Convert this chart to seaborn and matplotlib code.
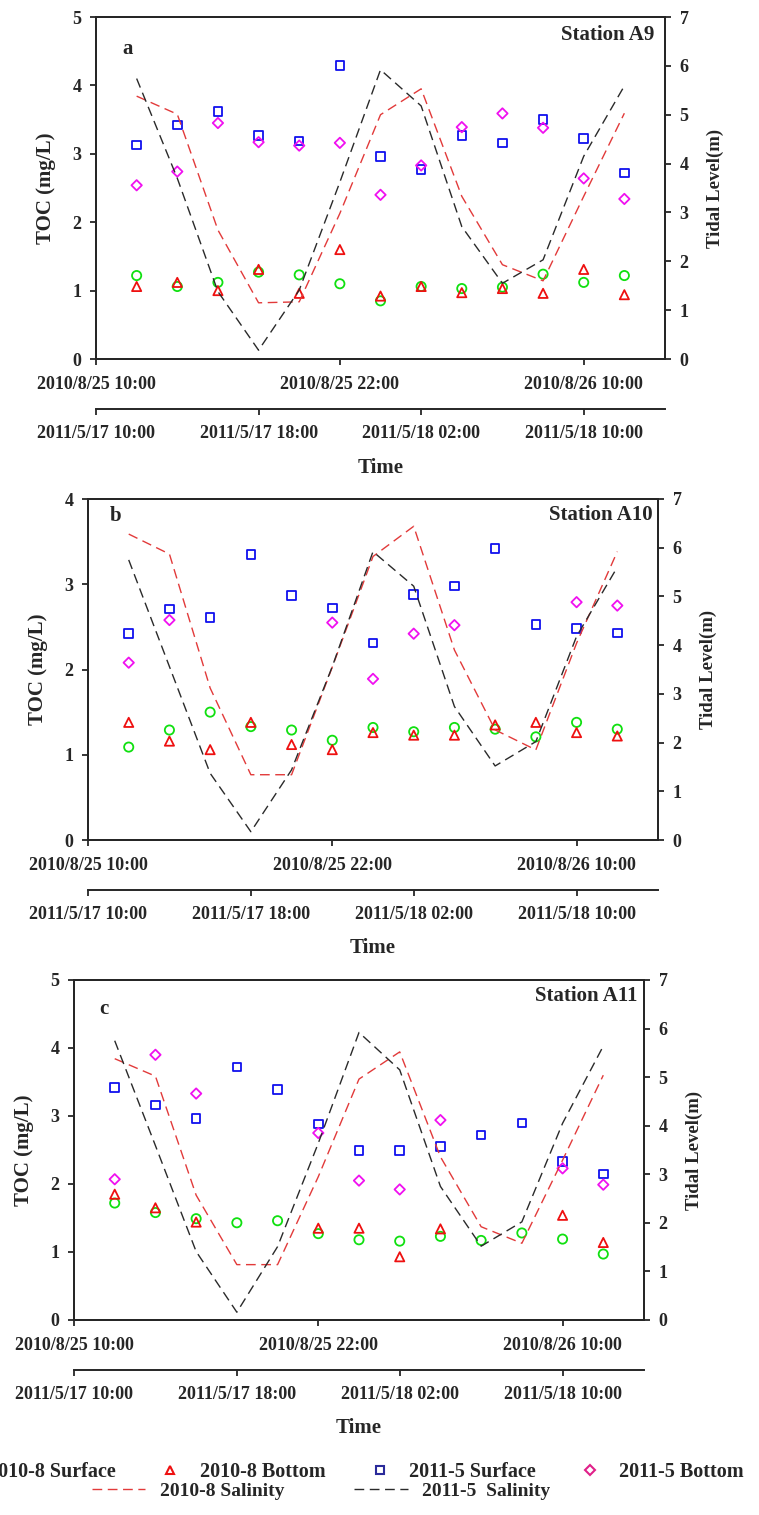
import numpy as np
import matplotlib
matplotlib.use("Agg")
import matplotlib.pyplot as plt
import seaborn as sns
from matplotlib.lines import Line2D

# ---------------- data ----------------
# sampling times: hours after 2010/8/25 10:00 (and 2011/5/17 10:00)
hours = [2, 4, 6, 8, 10, 12, 14, 16, 18, 20, 22, 24, 26]
ticks_2010 = [0, 12, 24]
labels_2010 = ["2010/8/25 10:00", "2010/8/25 22:00", "2010/8/26 10:00"]
ticks_2011 = [0, 8, 16, 24]
labels_2011 = ["2011/5/17 10:00", "2011/5/17 18:00", "2011/5/18 02:00", "2011/5/18 10:00"]

nan = np.nan

# Station A9
a9_surf2010 = [1.22, 1.06, 1.12, 1.27, 1.23, 1.10, 0.85, 1.06, 1.03, 1.05, 1.24, 1.12, 1.22]
a9_bot2010 = [1.06, 1.12, 1.00, 1.31, 0.96, 1.60, 0.92, 1.06, 0.97, 1.03, 0.96, 1.31, 0.94]
a9_surf2011 = [3.13, 3.42, 3.62, 3.27, 3.19, 4.29, 2.96, 2.77, 3.27, 3.16, 3.50, 3.22, 2.72]
a9_bot2011 = [2.54, 2.74, 3.45, 3.17, 3.12, 3.16, 2.40, 2.83, 3.39, 3.59, 3.38, 2.64, 2.34]
a9_sal2010 = [5.38, 5.01, 2.64, 1.15, 1.17, 2.98, 5.00, 5.53, 3.33, 1.93, 1.60, 3.33, 5.03]
a9_sal2011 = [5.74, 3.70, 1.38, 0.18, 1.41, 3.62, 5.92, 5.18, 2.71, 1.55, 2.03, 4.15, 5.59]

# Station A10
a10_surf2010 = [1.09, 1.29, 1.50, 1.33, 1.29, 1.17, 1.32, 1.27, 1.32, 1.30, 1.21, 1.38, 1.30]
a10_bot2010 = [1.38, 1.16, 1.06, 1.38, 1.12, 1.06, 1.26, 1.23, 1.23, 1.35, 1.38, 1.26, 1.22]
a10_surf2011 = [2.42, 2.71, 2.61, 3.35, 2.87, 2.72, 2.31, 2.88, 2.98, 3.42, 2.53, 2.48, 2.43]
a10_bot2011 = [2.08, 2.58, nan, nan, nan, 2.55, 1.89, 2.42, 2.52, nan, nan, 2.79, 2.75]
a10_sal2010 = [6.28, 5.87, 3.12, 1.34, 1.34, 3.55, 5.82, 6.44, 3.90, 2.26, 1.85, 4.04, 5.92]
a10_sal2011 = [5.75, 3.56, 1.37, 0.17, 1.44, 3.56, 5.92, 5.21, 2.74, 1.52, 2.02, 4.18, 5.60]

# Station A11
a11_surf2010 = [1.72, 1.58, 1.49, 1.43, 1.46, 1.27, 1.18, 1.16, 1.23, 1.17, 1.28, 1.19, 0.97]
a11_bot2010 = [1.85, 1.65, 1.44, nan, nan, 1.35, 1.35, 0.93, 1.34, nan, nan, 1.54, 1.14]
a11_surf2011 = [3.42, 3.16, 2.96, 3.72, 3.39, 2.88, 2.49, 2.49, 2.55, 2.72, 2.90, 2.33, 2.15]
a11_bot2011 = [2.07, 3.90, 3.33, nan, nan, 2.75, 2.05, 1.92, 2.94, nan, nan, 2.23, 1.99]
a11_sal2010 = [5.38, 5.02, 2.57, 1.14, 1.14, 2.95, 4.96, 5.52, 3.36, 1.92, 1.58, 3.29, 5.04]
a11_sal2011 = [5.75, 3.59, 1.41, 0.16, 1.51, 3.64, 5.92, 5.15, 2.75, 1.52, 2.02, 4.05, 5.64]

series_labels = ["2010-8 Surface", "2010-8 Bottom", "2011-5 Surface", "2011-5 Bottom"]
line_labels = ["2010-8 Salinity", "2011-5  Salinity"]

# ---------------- style ----------------
sns.set_theme(style="ticks")
plt.rcParams["font.family"] = ["Liberation Serif", "DejaVu Serif"]
plt.rcParams["font.weight"] = "bold"
plt.rcParams["axes.labelweight"] = "bold"
plt.rcParams["axes.linewidth"] = 1.4

C_GREEN = "#10e010"
C_RED = "#ee1010"
C_BLUE = "#1010ee"
C_MAG = "#f010f0"
C_SAL10 = "#e23a3a"
C_SAL11 = "#2a2a2a"
DASH = (0, (7, 4))

fig = plt.figure(figsize=(7.59, 15.15), dpi=100)
W, H = 759.0, 1515.0

panels = [
    dict(rect=(96, 17, 665, 359), ymax=5, letter="a", station="Station A9",
         letter_xy=(0.047, 0.905), st_xy=(0.982, 0.947),
         data=(a9_surf2010, a9_bot2010, a9_surf2011, a9_bot2011, a9_sal2010, a9_sal2011)),
    dict(rect=(88, 499, 658, 840), ymax=4, letter="b", station="Station A10",
         letter_xy=(0.039, 0.95), st_xy=(0.991, 0.953),
         data=(a10_surf2010, a10_bot2010, a10_surf2011, a10_bot2011, a10_sal2010, a10_sal2011)),
    dict(rect=(74, 980, 644, 1320), ymax=5, letter="c", station="Station A11",
         letter_xy=(0.045, 0.915), st_xy=(0.988, 0.953),
         data=(a11_surf2010, a11_bot2010, a11_surf2011, a11_bot2011, a11_sal2010, a11_sal2011)),
]

TICK_FS = 13
for p in panels:
    x0, y0, x1, y1 = p["rect"]
    ax = fig.add_axes([x0 / W, 1 - y1 / H, (x1 - x0) / W, (y1 - y0) / H])
    ax.set_facecolor("white")
    surf10, bot10, surf11, bot11, sal10, sal11 = p["data"]

    mk = dict(ax=ax, legend=False, facecolors="none", linewidths=1.3, zorder=3)
    sns.scatterplot(x=hours, y=surf10, marker="o", s=44, edgecolors=C_GREEN, **mk)
    sns.scatterplot(x=hours, y=bot10, marker="^", s=44, edgecolors=C_RED, **mk)
    sns.scatterplot(x=hours, y=surf11, marker="s", s=38, edgecolors=C_BLUE, **mk)
    sns.scatterplot(x=hours, y=bot11, marker="D", s=28, edgecolors=C_MAG, **mk)

    ax.set_xlim(0, 28)
    ax.set_ylim(0, p["ymax"])
    ax.set_yticks(range(0, p["ymax"] + 1))
    ax.set_xticks(ticks_2010, labels_2010)
    ax.tick_params(axis="both", direction="out", length=4.5, width=1.3,
                   labelsize=TICK_FS, pad=6)
    ax.tick_params(axis="x", pad=8)
    ax.set_ylabel("TOC (mg/L)", fontsize=15, fontweight="bold", labelpad=12)
    ax.set_xlabel("")

    ax2 = ax.twinx()
    sns.lineplot(x=hours, y=sal10, ax=ax2, color=C_SAL10, linestyle=DASH, linewidth=1.0)
    sns.lineplot(x=hours, y=sal11, ax=ax2, color=C_SAL11, linestyle=DASH, linewidth=1.0)
    ax2.set_ylim(0, 7)
    ax2.set_yticks(range(0, 8))
    ax2.tick_params(axis="y", direction="out", length=4.5, width=1.3,
                    labelsize=TICK_FS, pad=6)
    ax2.set_ylabel("Tidal Level(m)", fontsize=13.5, fontweight="bold", labelpad=13)
    ax2.set_xlabel("")
    for sp in ax2.spines.values():
        sp.set_linewidth(1.4)

    sec = ax.secondary_xaxis(-0.147)
    sec.set_xticks(ticks_2011, labels_2011)
    sec.tick_params(axis="x", direction="out", length=4.5, width=1.3,
                    labelsize=TICK_FS, pad=7)
    sec.spines["bottom"].set_linewidth(1.4)
    sec.set_xlabel("Time", fontsize=15, fontweight="bold", labelpad=11)

    ax.text(p["letter_xy"][0], p["letter_xy"][1], p["letter"], transform=ax.transAxes,
            fontsize=15, fontweight="bold", ha="left", va="center")
    ax.text(p["st_xy"][0], p["st_xy"][1], p["station"], transform=ax.transAxes,
            fontsize=15, fontweight="bold", ha="right", va="center")

# ---------------- legend ----------------
mk_handles = [
    Line2D([], [], linestyle="none", marker="o", markersize=6, markerfacecolor="none",
           markeredgecolor=C_GREEN, markeredgewidth=1.5),
    Line2D([], [], linestyle="none", marker="^", markersize=6, markerfacecolor="none",
           markeredgecolor=C_RED, markeredgewidth=1.5),
    Line2D([], [], linestyle="none", marker="s", markersize=5.5, markerfacecolor="none",
           markeredgecolor="#2a2a9a", markeredgewidth=1.5),
    Line2D([], [], linestyle="none", marker="D", markersize=5, markerfacecolor="none",
           markeredgecolor="#e0208a", markeredgewidth=1.5),
]
leg1 = fig.legend(mk_handles, series_labels, loc="center left",
                  bbox_to_anchor=(-51 / W, 1 - 1472 / H), ncol=4, frameon=False,
                  prop=dict(family="Liberation Serif", weight="bold", size=14.5),
                  handlelength=1.0, handletextpad=0.95, columnspacing=2.2,
                  borderpad=0, borderaxespad=0)
ln_handles = [
    Line2D([], [], color=C_SAL10, linestyle=DASH, linewidth=1.0),
    Line2D([], [], color=C_SAL11, linestyle=DASH, linewidth=1.0),
]
leg2 = fig.legend(ln_handles, line_labels, loc="center left",
                  bbox_to_anchor=(92 / W, 1 - 1491 / H), ncol=2, frameon=False,
                  prop=dict(family="Liberation Serif", weight="bold", size=14),
                  handlelength=2.73, handletextpad=0.77, columnspacing=3.6,
                  borderpad=0, borderaxespad=0)

fig.savefig("out.png", dpi=100, facecolor="white")
